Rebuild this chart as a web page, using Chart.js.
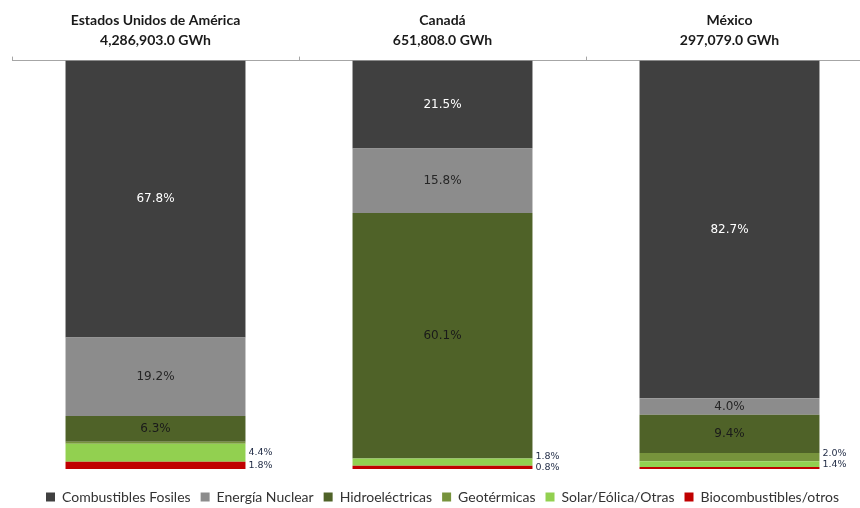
<!DOCTYPE html>
<html>
<head>
<meta charset="utf-8">
<script src="https://cdn.jsdelivr.net/npm/chart.js@4/dist/chart.umd.min.js"></script>
<style>
html,body{margin:0;padding:0;background:#fff;overflow:hidden;}
#wrap{width:874px;height:508px;position:relative;}
</style>
</head>
<body>
<div id="wrap"><canvas id="c"></canvas></div>
<script>
// ---- data ----
const countries = [
  ['Estados Unidos de América', '4,286,903.0 GWh'],
  ['Canadá', '651,808.0 GWh'],
  ['México', '297,079.0 GWh']
];
const seriesNames = ['Combustibles Fosiles', 'Energía Nuclear', 'Hidroeléctricas', 'Geotérmicas', 'Solar/Eólica/Otras', 'Biocombustibles/otros'];
const fosiles   = [67.8, 21.5, 82.7];
const nuclear   = [19.2, 15.8, 4.0];
const hidro     = [6.3, 60.1, 9.4];
const geo       = [0.5, 0.0, 2.0];
const solar     = [4.4, 1.8, 1.4];
const biocomb   = [1.8, 0.8, 0.5];

const colors = ['#404040', '#8c8c8c', '#4f6228', '#77933c', '#92d050', '#c00000'];
const insideText = ['#ffffff', '#262626', '#1a1a1a', null, null, null];
const values = [fosiles, nuclear, hidro, geo, solar, biocomb];

// stacking bottom-to-top: biocomb first
const datasets = [];
for (let k = values.length - 1; k >= 0; k--) {
  datasets.push({
    label: seriesNames[k],
    data: values[k],
    backgroundColor: colors[k],
    borderWidth: 0,
    labelColor: insideText[k],
    barPercentage: 0.627,
    categoryPercentage: 1.0
  });
}

const segLabels = {
  id: 'segLabels',
  afterDatasetsDraw(chart) {
    const ctx = chart.ctx;
    const n = chart.data.labels.length;
    ctx.save();
    for (let i = 0; i < n; i++) {
      let lastY = Infinity;
      chart.data.datasets.forEach((ds, di) => {
        const el = chart.getDatasetMeta(di).data[i];
        const v = ds.data[i];
        if (!v || v < 0.6) return;
        const top = Math.min(el.y, el.base), bot = Math.max(el.y, el.base);
        const cy = (top + bot) / 2;
        const txt = v.toFixed(1) + '%';
        if (ds.labelColor) {
          ctx.font = '12px "DejaVu Sans"';
          ctx.fillStyle = ds.labelColor;
          ctx.textAlign = 'center';
          ctx.textBaseline = 'middle';
          ctx.fillText(txt, el.x, cy);
        } else {
          const y = Math.min(cy, lastY - 11);
          lastY = y;
          ctx.font = '9.5px "DejaVu Sans"';
          ctx.fillStyle = '#1f2a44';
          ctx.textAlign = 'left';
          ctx.textBaseline = 'middle';
          ctx.fillText(txt, el.x + el.width / 2 + 3, y);
        }
      });
    }
    ctx.restore();
  }
};

new Chart(document.getElementById('c'), {
  type: 'bar',
  data: { labels: countries, datasets: datasets },
  plugins: [segLabels],
  options: {
    responsive: true,
    maintainAspectRatio: false,
    animation: false,
    layout: { padding: { left: 12, right: 1, top: 4, bottom: -6 } },
    scales: {
      x: {
        position: 'top',
        stacked: true,
        border: { display: true, color: '#a6a6a6', width: 1 },
        grid: { display: true, drawOnChartArea: false, drawTicks: true, tickLength: 4, color: '#a6a6a6', offset: true },
        ticks: {
          color: '#1a1a1a',
          font: { family: 'Lato', weight: 'bold', size: 14, lineHeight: 1.45 },
          padding: 6,
          maxRotation: 0,
          autoSkip: false
        }
      },
      y: { display: false, stacked: true, min: 0, max: 100 }
    },
    plugins: {
      legend: {
        position: 'bottom',
        reverse: true,
        title: { display: true, text: ' ', font: { size: 11, lineHeight: 1 }, padding: 0 },
        labels: {
          boxWidth: 9,
          boxHeight: 9,
          padding: 10,
          color: '#333333',
          font: { family: 'Lato', size: 14 }
        }
      },
      tooltip: { enabled: false }
    }
  }
});
</script>
</body>
</html>
